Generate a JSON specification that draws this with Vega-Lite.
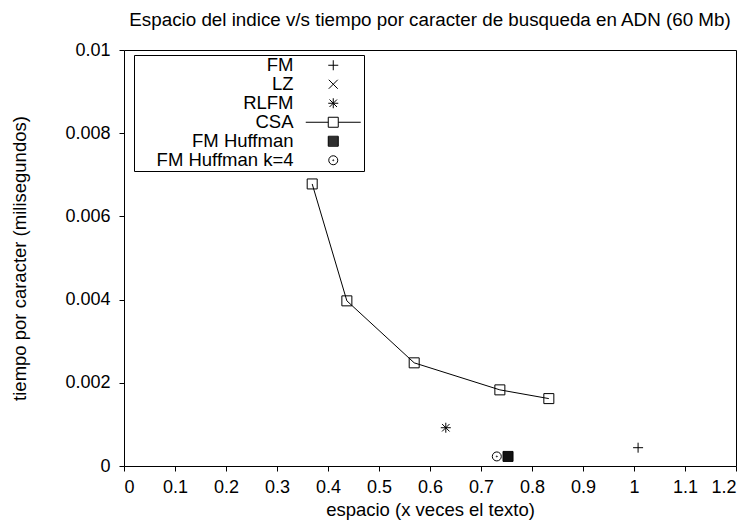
{
  "$schema": "https://vega.github.io/schema/vega-lite/v6.json",
  "width": 612,
  "height": 416,
  "autosize": {"type": "none"},
  "padding": {"left": 124, "top": 50, "right": 14, "bottom": 61},
  "background": "white",
  "title": {
    "text": "Espacio del indice v/s tiempo por caracter de busqueda en ADN (60 Mb)",
    "font": "Liberation Sans",
    "fontSize": 18.8,
    "fontWeight": "normal",
    "color": "black",
    "anchor": "middle",
    "offset": 11
  },
  "config": {
    "view": {"stroke": "black", "strokeWidth": 1},
    "axis": {
      "labelFont": "Liberation Sans",
      "titleFont": "Liberation Sans",
      "labelFontSize": 18,
      "titleFontSize": 18.5,
      "titleFontWeight": "normal",
      "labelColor": "black",
      "titleColor": "black",
      "ticks": true,
      "tickColor": "black",
      "tickWidth": 1,
      "tickSize": 5,
      "domain": false,
      "grid": false
    }
  },
  "data": {
    "values": [
      {"series": "FM", "espacio": 1.008, "tiempo": 0.00044},
      {"series": "RLFM", "espacio": 0.631, "tiempo": 0.00092},
      {"series": "CSA", "espacio": 0.369, "tiempo": 0.00678},
      {"series": "CSA", "espacio": 0.437, "tiempo": 0.00397},
      {"series": "CSA", "espacio": 0.569, "tiempo": 0.00248},
      {"series": "CSA", "espacio": 0.737, "tiempo": 0.00183},
      {"series": "CSA", "espacio": 0.833, "tiempo": 0.00162},
      {"series": "FM Huffman", "espacio": 0.753, "tiempo": 0.00023},
      {"series": "FM Huffman k=4", "espacio": 0.731, "tiempo": 0.00023}
    ]
  },
  "resolve": {
    "scale": {"shape": "independent"},
    "legend": {"shape": "independent"}
  },
  "layer": [
    {
      "transform": [{"filter": "datum.series === 'CSA'"}],
      "mark": {"type": "line", "color": "black", "strokeWidth": 1},
      "encoding": {
        "x": {
          "field": "espacio", "type": "quantitative",
          "scale": {"domain": [0, 1.2], "nice": false, "zero": false},
          "axis": {
            "orient": "bottom",
            "values": [0, 0.1, 0.2, 0.3, 0.4, 0.5, 0.6, 0.7, 0.8, 0.9, 1, 1.1, 1.2],
            "format": "~g",
            "labelPadding": 7,
            "title": "espacio (x veces el texto)",
            "titlePadding": 4
          }
        },
        "y": {
          "field": "tiempo", "type": "quantitative",
          "scale": {"domain": [0, 0.01], "nice": false, "zero": false},
          "axis": {
            "orient": "left",
            "values": [0, 0.002, 0.004, 0.006, 0.008, 0.01],
            "format": "~g",
            "labelPadding": 9,
            "title": "tiempo por caracter (milisegundos)",
            "titlePadding": 35
          }
        }
      }
    },
    {
      "mark": {"type": "point", "filled": false, "color": "black", "strokeWidth": 1, "size": 100, "opacity": 1},
      "encoding": {
        "x": {"field": "espacio", "type": "quantitative"},
        "y": {"field": "tiempo", "type": "quantitative"},
        "shape": {
          "field": "series", "type": "nominal",
          "scale": {
            "domain": ["FM", "LZ", "RLFM", "CSA", "FM Huffman", "FM Huffman k=4"],
            "range": [
              "M-1,0H1M0,-1V1",
              "M-0.9,-0.9L0.9,0.9M-0.9,0.9L0.9,-0.9",
              "M-1,0H1M0,-1V1M-0.75,-0.75L0.75,0.75M-0.75,0.75L0.75,-0.75",
              "M-1,-1H1V1H-1Z",
              "M-1,-1H1V1H-1Z M-1,-0.8H1 M-1,-0.6H1 M-1,-0.4H1 M-1,-0.2H1 M-1,0H1 M-1,0.2H1 M-1,0.4H1 M-1,0.6H1 M-1,0.8H1",
              "M0.9,0A0.9,0.9,0,1,1,-0.9,0A0.9,0.9,0,1,1,0.9,0Z M0.1,0A0.1,0.1,0,1,1,-0.1,0A0.1,0.1,0,1,1,0.1,0Z"
            ]
          },
          "legend": null
        }
      }
    },
    {
      "transform": [{"filter": "false"}],
      "mark": {"type": "point", "filled": false, "color": "black", "strokeWidth": 1, "size": 100, "opacity": 1},
      "encoding": {
        "x": {"field": "espacio", "type": "quantitative"},
        "y": {"field": "tiempo", "type": "quantitative"},
        "shape": {
          "field": "series", "type": "nominal",
          "scale": {
            "domain": ["FM", "LZ", "RLFM", "CSA", "FM Huffman", "FM Huffman k=4"],
            "range": [
              "M-1,0H1M0,-1V1",
              "M-0.9,-0.9L0.9,0.9M-0.9,0.9L0.9,-0.9",
              "M-1,0H1M0,-1V1M-0.75,-0.75L0.75,0.75M-0.75,0.75L0.75,-0.75",
              "M-1,-1H1V1H-1Z M-5.5,0H-1 M1,0H5.5",
              "M-1,-1H1V1H-1Z M-1,-0.8H1 M-1,-0.6H1 M-1,-0.4H1 M-1,-0.2H1 M-1,0H1 M-1,0.2H1 M-1,0.4H1 M-1,0.6H1 M-1,0.8H1",
              "M0.9,0A0.9,0.9,0,1,1,-0.9,0A0.9,0.9,0,1,1,0.9,0Z M0.1,0A0.1,0.1,0,1,1,-0.1,0A0.1,0.1,0,1,1,0.1,0Z"
            ]
          },
          "legend": {
            "title": null,
            "orient": "none",
            "legendX": 10,
            "legendY": 5,
            "padding": 1,
            "strokeColor": "black",
            "fillColor": "white",
            "labelFont": "Liberation Sans",
            "labelFontSize": 18.5,
            "labelColor": "black",
            "labelAlign": "right",
            "labelLimit": 400,
            "labelOffset": -49,
            "symbolOffset": 189,
            "symbolSize": 100,
            "symbolStrokeColor": "black",
            "symbolStrokeWidth": 1,
            "rowPadding": 0
          }
        }
      }
    }
  ]
}
